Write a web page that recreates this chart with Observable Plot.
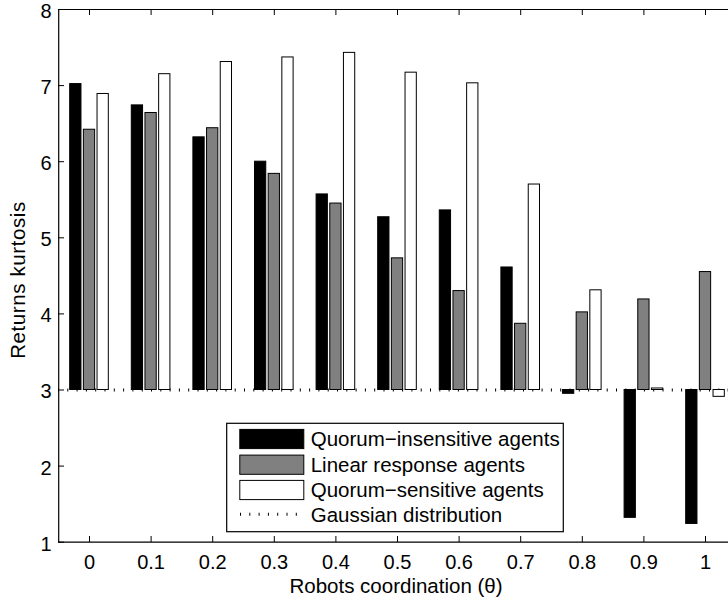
<!DOCTYPE html>
<html>
<head>
<meta charset="utf-8">
<script src="https://cdn.jsdelivr.net/npm/d3@7"></script>
<script src="https://cdn.jsdelivr.net/npm/@observablehq/plot@0.6"></script>
<style>
  html, body { margin: 0; padding: 0; background: white; overflow: hidden; }
</style>
</head>
<body>
<div id="chart"></div>
<script>
// ---- data ----
const theta = [0, 0.1, 0.2, 0.3, 0.4, 0.5, 0.6, 0.7, 0.8, 0.9, 1];
const quorumInsensitive = [7.02, 6.74, 6.32, 6.00, 5.57, 5.27, 5.36, 4.61, 2.95, 1.32, 1.24];
const linearResponse    = [6.42, 6.64, 6.44, 5.84, 5.45, 4.73, 4.30, 3.87, 4.02, 4.19, 4.55];
const quorumSensitive   = [6.89, 7.15, 7.31, 7.37, 7.43, 7.17, 7.03, 5.70, 4.31, 3.02, 2.91];
const seriesNames = ["Quorum\u2212insensitive agents", "Linear response agents", "Quorum\u2212sensitive agents"];
const gaussianLabel = "Gaussian distribution";
const gaussianKurtosis = 3;
const xTicks = [0, 0.1, 0.2, 0.3, 0.4, 0.5, 0.6, 0.7, 0.8, 0.9, 1];
const xTickLabels = ["0", "0.1", "0.2", "0.3", "0.4", "0.5", "0.6", "0.7", "0.8", "0.9", "1"];
const yTicks = [1, 2, 3, 4, 5, 6, 7, 8];
const yTickLabels = ["1", "2", "3", "4", "5", "6", "7", "8"];
const xTitle = "Robots coordination (\u03b8)";
const yTitle = "Returns kurtosis";

// ---- layout / style ----
const W = 728, H = 599;
const mL = 58, mR = 0, mT = 9, mB = 57;
const plotH = H - mT - mB, plotW = W - mL - mR;
const colors = ["#000000", "#808080", "#ffffff"];
const barStep = 0.0222, barWidth = 0.0183;
const FONT = "'Liberation Sans', Arial, Helvetica, sans-serif";

const seriesValues = [quorumInsensitive, linearResponse, quorumSensitive];
const bars = [];
seriesValues.forEach((vals, s) => {
  vals.forEach((v, i) => bars.push({theta: theta[i], series: seriesNames[s], k: s - 1, value: v}));
});

const chart = Plot.plot({
  width: W, height: H,
  marginLeft: mL, marginRight: mR, marginTop: mT, marginBottom: mB,
  x: {domain: [-0.05, 1.05], range: [58.2, 735.8]},
  y: {domain: [1, 8], range: [541.7, 9]},
  color: {domain: seriesNames, range: colors},
  style: {fontFamily: FONT, fontSize: "20px", background: "white", color: "black", overflow: "hidden"},
  marks: [
    Plot.ruleY([gaussianKurtosis], {stroke: "black", strokeWidth: 3, strokeDasharray: "1,8.3"}),
    Plot.rect(bars, {
      x1: d => d.theta + d.k * barStep - barWidth / 2,
      x2: d => d.theta + d.k * barStep + barWidth / 2,
      y1: gaussianKurtosis, y2: "value",
      fill: "series", stroke: "black", strokeWidth: 1
    }),
    // box
    Plot.ruleX([-0.05], {stroke: "black", strokeWidth: 1.2}),
    Plot.ruleY([1, 8], {stroke: "black", strokeWidth: 1.2}),
    // inward ticks
    Plot.tickX(xTicks, {x: d => d, insetTop: plotH - 6, stroke: "black"}),
    Plot.tickX(xTicks, {x: d => d, insetBottom: plotH - 6, stroke: "black"}),
    Plot.tickY(yTicks, {y: d => d, insetRight: plotW - 6, stroke: "black"}),
    // tick labels
    Plot.axisX({ticks: xTicks, tickSize: 0, tickPadding: 12, tickFormat: (d, i) => xTickLabels[i], fontSize: 20, label: null}),
    Plot.axisY({ticks: yTicks, tickSize: 0, tickPadding: 7, dy: 2, tickFormat: (d, i) => yTickLabels[i], fontSize: 20, label: null})
  ]
});

const svg = d3.select(chart);
// axis titles
svg.append("text").attr("x", 396).attr("y", 592.5)
  .attr("font-family", FONT).attr("font-size", 20.5)
  .attr("text-anchor", "middle").attr("fill", "black").text(xTitle);
svg.append("text").attr("transform", "translate(25,280) rotate(-90)")
  .attr("font-family", FONT).attr("font-size", 20.5).attr("letter-spacing", 0.6)
  .attr("text-anchor", "middle").attr("fill", "black").text(yTitle);

// legend (inside axes)
const lg = svg.append("g").attr("font-family", FONT).attr("font-size", 20.5)
  .attr("text-anchor", "start").attr("fill", "black");
lg.append("rect").attr("x", 226.7).attr("y", 423.3).attr("width", 336.6).attr("height", 108.4)
  .attr("fill", "white").attr("stroke", "black").attr("stroke-width", 1.2);
const rowY = [439, 464.7, 490, 514.3];
seriesNames.forEach((name, i) => {
  lg.append("rect").attr("x", 239.8).attr("y", rowY[i] - 9.6).attr("width", 64).attr("height", 19.2)
    .attr("fill", colors[i]).attr("stroke", "black").attr("stroke-width", 1);
  lg.append("text").attr("x", 310.7).attr("y", rowY[i] + 7.3).text(name);
});
lg.append("line").attr("x1", 240).attr("x2", 304).attr("y1", rowY[3]).attr("y2", rowY[3])
  .attr("stroke", "black").attr("stroke-width", 3).attr("stroke-dasharray", "1,8.3");
lg.append("text").attr("x", 310.7).attr("y", rowY[3] + 7.3).text(gaussianLabel);

document.getElementById("chart").appendChild(chart);
</script>
</body>
</html>
